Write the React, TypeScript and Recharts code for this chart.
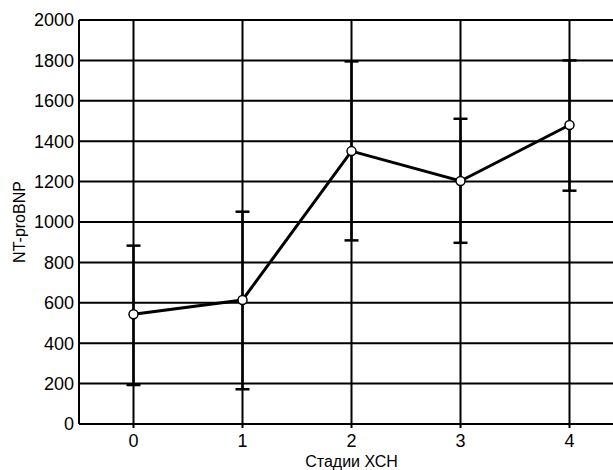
import { LineChart, Line, XAxis, YAxis, CartesianGrid, ErrorBar, Label } from "recharts";

const stages = [0, 1, 2, 3, 4];
const means = [543, 614, 1351, 1203, 1480];
const lows = [193, 172, 909, 897, 1155];
const highs = [883, 1051, 1795, 1511, 1800];
const yTicks = [0, 200, 400, 600, 800, 1000, 1200, 1400, 1600, 1800, 2000];

const data = stages.map((s, i) => ({
  stage: s,
  value: means[i],
  err: [means[i] - lows[i], highs[i] - means[i]],
}));

const font = "'Liberation Sans Narrow', 'Liberation Sans', Arial, sans-serif";

export default function App() {
  return (
    <div style={{ position: "absolute", left: 0, top: 0, width: 613, height: 470, overflow: "hidden", background: "#fff" }}>
      <LineChart width={640} height={470} data={data} margin={{ top: 20, right: 16, bottom: 0, left: 0 }}>
        <CartesianGrid stroke="#000" strokeWidth={2} />
        <XAxis
          dataKey="stage"
          type="number"
          domain={[-0.5, 4.5]}
          ticks={stages}
          height={46}
          stroke="#000"
          strokeWidth={2}
          tickSize={4}
          tickMargin={6}
          tick={{ fill: "#000", fontSize: 18, fontFamily: font }}
        >
          <Label value="Стадии ХСН" position="insideBottom" offset={3} style={{ fill: "#000", fontSize: 16, fontFamily: font }} />
        </XAxis>
        <YAxis
          domain={[0, 2000]}
          ticks={yTicks}
          width={79}
          stroke="#000"
          strokeWidth={2}
          tickLine={false}
          tickSize={0}
          tickMargin={5}
          tick={{ fill: "#000", fontSize: 18, fontFamily: font }}
        >
          <Label value="NT-proBNP" angle={-90} position="insideLeft" offset={19} style={{ fill: "#000", fontSize: 16, fontFamily: font, textAnchor: "middle" }} />
        </YAxis>
        <Line
          dataKey="value"
          stroke="#000"
          strokeWidth={3}
          isAnimationActive={false}
          dot={{ r: 4.5, fill: "#fff", stroke: "#000", strokeWidth: 1.5 }}
          activeDot={false}
        >
          <ErrorBar dataKey="err" direction="y" stroke="#000" strokeWidth={2.5} width={7} isAnimationActive={false} />
        </Line>
      </LineChart>
    </div>
  );
}
